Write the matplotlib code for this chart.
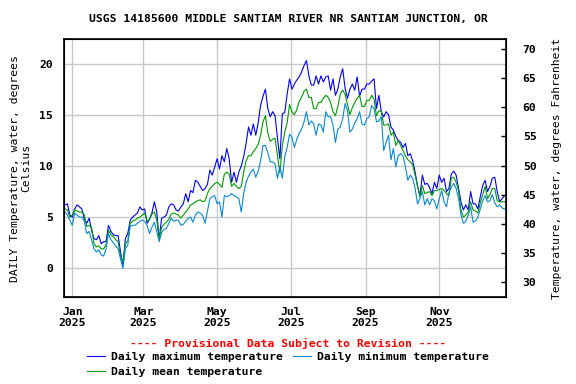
import numpy as np
import pandas as pd
import matplotlib
matplotlib.use("Agg")
import matplotlib.pyplot as plt
import matplotlib.dates as mdates

plt.rcParams['font.family'] = 'DejaVu Sans Mono'
plt.rcParams['font.weight'] = 'bold'
plt.rcParams['font.size'] = 8.2

# every second day, starting 2024-12-26
fechas = pd.date_range("2024-12-26", periods=183, freq="2D")

t_max = [6.2, 6.3, 5.2, 5.0, 5.8, 6.2, 6.0, 5.8, 4.8, 4.4,
         4.9, 3.7, 2.9, 2.8, 3.2, 2.4, 2.6, 2.6, 4.2, 3.6,
         3.3, 3.2, 3.2, 1.6, 0.3, 2.9, 3.4, 4.7, 5.0, 5.2,
         5.4, 6.0, 5.7, 5.8, 4.4, 4.8, 5.4, 6.5, 5.5, 2.8,
         4.9, 5.0, 5.2, 6.0, 6.3, 6.2, 5.7, 5.6, 6.0, 6.3,
         7.3, 6.5, 7.6, 7.4, 8.6, 8.4, 8.0, 7.6, 7.8, 8.2,
         9.6, 9.1, 9.9, 10.7, 9.7, 11.0, 10.4, 11.7, 10.7, 8.4,
         9.4, 8.4, 9.4, 10.0, 10.9, 12.2, 13.8, 13.0, 14.1, 13.0,
         14.2, 15.9, 16.8, 17.5, 15.6, 14.8, 15.3, 14.9, 12.7, 10.7,
         15.1, 15.2, 17.0, 18.5, 17.5, 18.0, 18.4, 18.7, 19.2, 19.8,
         20.3, 18.8, 17.9, 17.9, 18.8, 18.0, 18.8, 18.2, 18.7, 18.8,
         17.4, 18.5, 16.9, 17.5, 18.7, 19.5, 17.6, 16.6, 17.5, 18.0,
         17.4, 18.7, 16.8, 17.5, 17.5, 18.0, 18.0, 18.3, 18.5, 15.6,
         16.9, 15.3, 14.8, 15.3, 15.0, 13.8, 13.5, 12.9, 12.5, 12.3,
         11.8, 12.2, 11.0, 11.2, 10.5, 9.4, 8.0, 7.1, 9.1, 8.2,
         8.3, 7.9, 7.3, 8.4, 7.8, 9.1, 8.4, 8.8, 7.5, 7.8,
         9.2, 9.5, 9.1, 7.8, 6.5, 5.7, 6.2, 5.7, 7.5, 6.3,
         6.3, 5.8, 7.0, 8.1, 8.6, 7.5, 8.0, 8.8, 8.9, 7.5,
         6.5, 6.8, 7.1]

t_min = [5.5, 5.2, 4.7, 4.2, 5.4, 5.2, 5.0, 5.0, 4.6, 3.4,
         3.6, 2.8, 1.9, 1.6, 1.8, 1.3, 1.2, 1.9, 3.4, 2.8,
         2.5, 2.2, 1.9, 0.9, 0.0, 1.9, 2.3, 4.1, 4.2, 4.2,
         4.4, 4.6, 4.7, 4.6, 4.2, 3.4, 4.0, 4.5, 3.6, 2.6,
         3.5, 3.8, 3.9, 4.4, 4.9, 4.6, 4.7, 4.7, 4.2, 4.3,
         4.6, 4.9, 5.0, 4.5, 5.2, 5.5, 5.4, 5.2, 4.4, 5.6,
         6.8, 7.0, 7.1, 6.3, 6.5, 5.0, 7.1, 7.0, 7.1, 7.3,
         7.1, 7.0, 6.8, 5.5, 7.3, 8.4, 9.0, 9.4, 9.7, 8.9,
         9.5, 10.5, 12.0, 12.0, 11.3, 10.4, 10.4, 10.2, 8.8, 10.0,
         8.8, 10.9, 11.8, 13.1, 12.8, 11.8, 12.6, 13.2, 13.6, 14.3,
         15.3, 14.0, 14.4, 14.1, 13.0, 14.1, 14.0, 13.3, 15.3, 14.8,
         14.8, 14.0, 12.3, 13.6, 13.8, 14.6, 16.1, 15.4, 13.3, 13.6,
         14.2, 14.6, 15.3, 14.1, 14.0, 14.6, 14.8, 15.9, 15.6, 14.3,
         14.4, 14.8, 11.5, 12.3, 13.0, 10.6, 11.7, 9.9, 11.0, 11.2,
         11.0, 9.9, 8.6, 9.1, 8.8, 7.8, 6.3, 6.8, 7.5, 6.2,
         6.8, 6.2, 6.8, 6.6, 5.8, 6.8, 7.6, 6.5, 6.0, 7.4,
         7.9, 8.3, 7.8, 6.8, 5.2, 4.4, 4.6, 5.2, 6.0, 4.5,
         4.6, 5.0, 5.8, 6.6, 7.1, 6.5, 6.6, 7.2, 6.4, 6.0,
         6.2, 5.9, 5.8]

t_mean = [5.8, 5.7, 5.0, 5.2, 5.7, 5.6, 5.5, 5.5, 5.2, 4.1,
          4.2, 4.0, 2.4, 2.1, 2.2, 1.9, 1.9, 2.3, 3.7, 3.3,
          3.1, 2.8, 2.6, 1.2, 0.6, 2.4, 2.7, 4.4, 4.6, 4.7,
          4.9, 5.0, 5.2, 5.4, 4.6, 4.8, 5.3, 5.5, 4.7, 2.9,
          4.0, 4.3, 4.5, 4.8, 5.3, 5.4, 5.3, 5.2, 4.9, 5.2,
          5.5, 5.8, 6.2, 6.3, 6.5, 6.6, 6.7, 6.5, 6.6, 7.3,
          7.8, 8.0, 8.3, 8.4, 8.2, 7.9, 9.2, 9.4, 9.2, 8.0,
          8.3, 8.0, 7.8, 8.0, 9.4, 10.5, 11.0, 11.0, 11.4, 11.7,
          12.1, 13.0, 14.3, 14.9, 13.2, 12.4, 12.6, 12.7, 11.0, 9.3,
          12.0, 13.3, 14.2, 16.0, 15.3, 15.0, 15.5, 16.3, 16.7, 17.3,
          17.5, 16.7, 16.7, 15.6, 15.6, 16.2, 16.2, 16.6, 16.9, 16.7,
          16.2, 15.3, 14.9, 15.8, 17.0, 17.4, 17.0, 16.0, 15.0, 15.7,
          16.2, 16.6, 16.9, 15.8, 15.8, 16.4, 16.4, 16.9, 16.5, 14.9,
          15.4, 15.3, 14.0, 14.0, 14.1, 13.0, 13.3, 12.0, 12.5, 12.0,
          11.5, 11.0, 10.6, 10.4, 10.1, 9.1, 8.1, 7.0, 8.1, 7.3,
          7.4, 7.5, 7.1, 7.6, 7.6, 7.7, 7.8, 7.6, 7.3, 7.1,
          8.8, 8.9, 8.4, 7.6, 5.7, 5.0, 5.2, 5.5, 6.5, 5.7,
          5.6, 5.4, 6.4, 7.2, 8.0, 6.8, 7.2, 7.8, 7.8, 6.6,
          6.5, 6.5, 6.5]

fig = plt.figure(figsize=(5.76, 3.84), dpi=100)
ax = fig.add_axes([64.3/576, 1-297/384, (506-64.3)/576, (297-39.3)/384])

l1, = ax.plot(fechas, t_max, color="#0000ff", lw=0.8, label="Daily maximum temperature")
l2, = ax.plot(fechas, t_mean, color="#009900", lw=0.8, label="Daily mean temperature")
l3, = ax.plot(fechas, t_min, color="#0a88d2", lw=0.8, label="Daily minimum temperature")

ax.set_xlim(pd.Timestamp("2024-12-25 10:00"), pd.Timestamp("2025-12-26 07:00"))
ax.set_ylim(-2.8, 22.37)
ax.set_yticks([0, 5, 10, 15, 20])
ax.xaxis.set_major_locator(mdates.MonthLocator(bymonth=[1, 3, 5, 7, 9, 11]))
ax.xaxis.set_major_formatter(mdates.DateFormatter("%b\n%Y"))
ax.grid(True, color="#c8c8c8", lw=1)
ax.set_axisbelow(True)
ax.tick_params(axis="both", length=0)
ax.tick_params(axis="y", pad=8)
ax.tick_params(axis="x", pad=7)
for s in ax.spines.values():
    s.set_linewidth(1.2)

ax.set_ylabel("DAILY Temperature, water, degrees\nCelsius", labelpad=6)

ax2 = ax.twinx()
ax2.set_ylim(27.5, 71.6)
ax2.set_yticks([30, 35, 40, 45, 50, 55, 60, 65, 70])
ax2.tick_params(axis="y", direction="in", length=3.5, width=1, pad=12)
ax2.set_ylabel("Temperature, water, degrees Fahrenheit", labelpad=11)

fig.text(0.5, 1-19/384, "USGS 14185600 MIDDLE SANTIAM RIVER NR SANTIAM JUNCTION, OR",
         ha="center", va="center")
fig.text(0.5, 1-343/384, "---- Provisional Data Subject to Revision ----",
         ha="center", va="center", color="red")

fig.legend(handles=[l1, l2, l3], ncol=2, frameon=False, loc="upper center",
           bbox_to_anchor=(0.5, 1-352/384), borderaxespad=0, borderpad=0,
           handlelength=1.6, handletextpad=0.5, columnspacing=0.9,
           labelspacing=0.45)

fig.savefig("out.png", dpi=100)
